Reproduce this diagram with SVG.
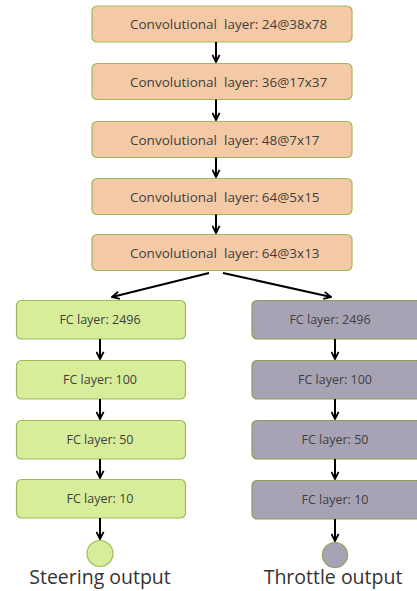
<svg xmlns="http://www.w3.org/2000/svg" width="417" height="591" viewBox="0 0 417 591">
<style>
.conv{fill:#f4caa6;stroke:#9bbb59;stroke-width:1.2}
.gr{fill:#d7ed9a;stroke:#9bbb59;stroke-width:1.2}
.pu{fill:#a8a2b5;stroke:#8a9d55;stroke-width:1.2}
.t{font-family:"Open Sans","Liberation Sans",sans-serif;font-size:12.5px;fill:#3f3f3f;text-anchor:middle}
.c{font-family:"Open Sans","Liberation Sans",sans-serif;font-size:13.5px;fill:#3f3f3f;white-space:pre}
.big{font-family:"Open Sans","Liberation Sans",sans-serif;font-size:19.5px;fill:#333;text-anchor:middle}
.a{stroke:#000;stroke-width:2;fill:none;marker-end:url(#ah)}
</style>
<defs>
<marker id="ah" viewBox="0 0 10 10" refX="9" refY="5" markerWidth="4.5" markerHeight="4.5" orient="auto" markerUnits="strokeWidth">
<path d="M1,1 L9,5 L1,9" fill="none" stroke="#000" stroke-width="2"/>
</marker>
</defs>
<rect width="417" height="591" fill="#fff"/>
<g id="conv1"><rect class="conv" x="92" y="6" width="260" height="36" rx="5"/><text class="c" x="130" y="29" xml:space="preserve">Convolutional  layer: 24@38x78</text></g>
<g id="conv2"><rect class="conv" x="92" y="63.5" width="260" height="36" rx="5"/><text class="c" x="130" y="86.5" xml:space="preserve">Convolutional  layer: 36@17x37</text></g>
<g id="conv3"><rect class="conv" x="92" y="121.5" width="260" height="36" rx="5"/><text class="c" x="130" y="144.5" xml:space="preserve">Convolutional  layer: 48@7x17</text></g>
<g id="conv4"><rect class="conv" x="92" y="178.5" width="260" height="36" rx="5"/><text class="c" x="130" y="201.5" xml:space="preserve">Convolutional  layer: 64@5x15</text></g>
<g id="conv5"><rect class="conv" x="92" y="234.5" width="260" height="36" rx="5"/><text class="c" x="130" y="257.5" xml:space="preserve">Convolutional  layer: 64@3x13</text></g>

<g id="s1"><rect class="gr" x="16.5" y="300.5" width="169" height="38.5" rx="5"/><text class="t" x="100" y="324">FC layer: 2496</text></g>
<g id="s2"><rect class="gr" x="16.5" y="360.5" width="169" height="38.5" rx="5"/><text class="t" x="100" y="384">FC layer: 100</text></g>
<g id="s3"><rect class="gr" x="16.5" y="420.5" width="169" height="38.5" rx="5"/><text class="t" x="100" y="444">FC layer: 50</text></g>
<g id="s4"><rect class="gr" x="16.5" y="479.5" width="169" height="38.5" rx="5"/><text class="t" x="100" y="503">FC layer: 10</text></g>
<g id="sout"><circle class="gr" cx="100" cy="553.5" r="13"/><text class="big" x="100" y="584">Steering output</text></g>

<g id="t1"><rect class="pu" x="252" y="300.5" width="169" height="38.5" rx="5"/><text class="t" x="330" y="324">FC layer: 2496</text></g>
<g id="t2"><rect class="pu" x="252" y="360.5" width="169" height="38.5" rx="5"/><text class="t" x="335" y="384">FC layer: 100</text></g>
<g id="t3"><rect class="pu" x="252" y="420.5" width="169" height="38.5" rx="5"/><text class="t" x="335" y="444">FC layer: 50</text></g>
<g id="t4"><rect class="pu" x="252" y="480.5" width="169" height="38.5" rx="5"/><text class="t" x="335" y="504">FC layer: 10</text></g>
<g id="tout"><circle class="pu" cx="335" cy="555" r="12.5"/><text class="big" x="333" y="584">Throttle output</text></g>

<g id="connectors">
<line class="a" x1="216" y1="42" x2="216" y2="62"/>
<line class="a" x1="216" y1="99.5" x2="216" y2="120"/>
<line class="a" x1="216" y1="157.5" x2="216" y2="177"/>
<line class="a" x1="216" y1="214.5" x2="216" y2="233"/>
<line class="a" x1="209" y1="273" x2="112" y2="297"/>
<line class="a" x1="223" y1="273" x2="331" y2="297"/>
<line class="a" x1="100" y1="339" x2="100" y2="359"/>
<line class="a" x1="100" y1="399" x2="100" y2="419"/>
<line class="a" x1="100" y1="459" x2="100" y2="478"/>
<line class="a" x1="100" y1="518" x2="100" y2="539"/>
<line class="a" x1="335" y1="339" x2="335" y2="359"/>
<line class="a" x1="335" y1="399" x2="335" y2="419"/>
<line class="a" x1="335" y1="459" x2="335" y2="479"/>
<line class="a" x1="335" y1="519" x2="335" y2="541"/>
</g>
</svg>
